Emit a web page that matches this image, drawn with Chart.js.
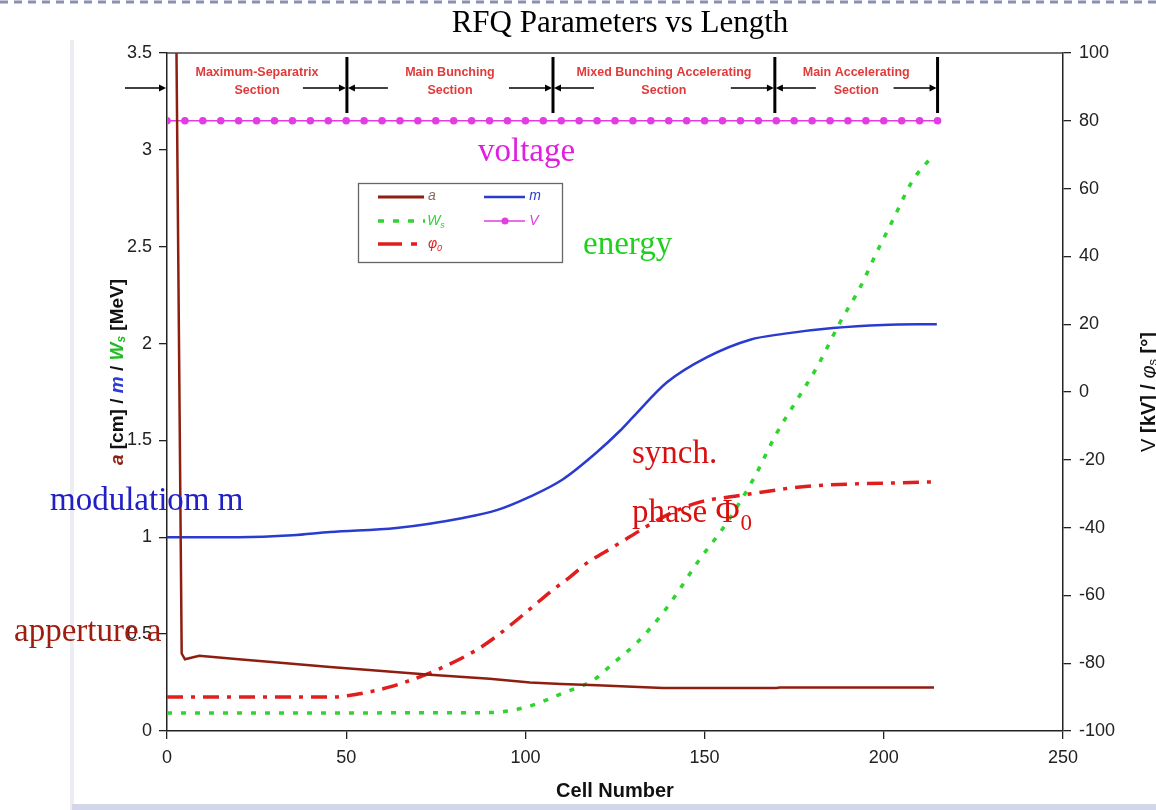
<!DOCTYPE html>
<html>
<head>
<meta charset="utf-8">
<title>RFQ Parameters vs Length</title>
<script src="https://cdn.jsdelivr.net/npm/chart.js@4.4.1/dist/chart.umd.min.js"></script>
<style>
  body { margin: 0; background: #fff; }
  #wrap { width: 1156px; height: 810px; }
</style>
</head>
<body>
<div id="wrap"><canvas id="rfq-chart" width="1156" height="810"></canvas></div>
<script>
// values (cell number -> value)
var apertureCells = [2.6, 4.1, 5, 9, 20, 30, 45.5, 60, 73.4, 90, 101.3, 110, 120, 130, 138.4, 150, 170, 171, 214];
var apertureCm = [3.6, 0.4, 0.37, 0.388, 0.37, 0.355, 0.33, 0.31, 0.29, 0.27, 0.25, 0.243, 0.236, 0.228, 0.222, 0.222, 0.222, 0.225, 0.225];

var modCells = [0, 20, 35, 45.5, 64, 82.6, 92, 101.3, 110.5, 120, 126.4, 130, 139.5, 150.7, 162.7, 171.9, 185.8, 199.8, 214.8];
var modValues = [1.0, 1.0, 1.01, 1.027, 1.048, 1.10, 1.14, 1.21, 1.30, 1.44, 1.55, 1.62, 1.80, 1.93, 2.02, 2.05, 2.08, 2.096, 2.10];

var energyCells = [0, 90, 100.4, 110.5, 119, 124.5, 131, 138.4, 143, 148, 156, 163.6, 170.2, 175.8, 181.4, 187.8, 193.4, 198, 202.6, 208, 213.7];
var energyMeV = [0.093, 0.095, 0.124, 0.196, 0.263, 0.35, 0.454, 0.61, 0.73, 0.87, 1.07, 1.30, 1.54, 1.71, 1.88, 2.11, 2.29, 2.47, 2.64, 2.84, 2.97];

var phaseCells = [0, 45.5, 53.8, 62.2, 70.6, 75.3, 86.5, 92, 101.3, 106.9, 112.4, 117.2, 121.7, 129, 138.4, 147.9, 160.7, 166.3, 176.6, 213.7];
var phaseDeg = [-90, -90, -89, -87, -84, -82, -76, -72, -64, -59, -54.6, -50.4, -47.5, -42.8, -36.9, -32.7, -30.4, -29.5, -28, -26.5];

var voltageCells = [0, 5, 10, 15, 20, 25, 30, 35, 40, 45, 50, 55, 60, 65, 70, 75, 80, 85, 90, 95, 100, 105,
  110, 115, 120, 125, 130, 135, 140, 145, 150, 155, 160, 165, 170, 175, 180, 185, 190, 195, 200, 205, 210, 215];
var voltageKV = [80, 80, 80, 80, 80, 80, 80, 80, 80, 80, 80, 80, 80, 80, 80, 80, 80, 80, 80, 80, 80, 80,
  80, 80, 80, 80, 80, 80, 80, 80, 80, 80, 80, 80, 80, 80, 80, 80, 80, 80, 80, 80, 80, 80];

// section boundaries along the structure (cell number)
var sectionEdges = [0, 50.2, 107.7, 169.6, 215];
var sectionNames = [
  ["Maximum-Separatrix", "Section"],
  ["Main Bunching", "Section"],
  ["Mixed Bunching Accelerating", "Section"],
  ["Main Accelerating", "Section"],
];

var BROWN = "#8e1f10";
var BLUE = "#2a3bd0";
var GREEN = "#2fd42f";
var RED = "#e01e1e";
var MAGENTA = "#e23ce2";

function toPoints(xs, ys) {
  var pts = [];
  for (var i = 0; i < xs.length; i++) {
    pts.push({ x: xs[i], y: ys[i] });
  }
  return pts;
}

function drawArrow(c, x1, x2, y) {
  var dir = x2 > x1 ? 1 : -1;
  c.beginPath();
  c.moveTo(x1, y);
  c.lineTo(x2 - dir * 5, y);
  c.stroke();
  c.beginPath();
  c.moveTo(x2, y);
  c.lineTo(x2 - dir * 7, y - 3.5);
  c.lineTo(x2 - dir * 7, y + 3.5);
  c.closePath();
  c.fill();
}

// draws a run of differently styled pieces, centred on (x, y), optionally rotated
function drawRich(c, parts, x, y, angle) {
  c.save();
  c.translate(x, y);
  c.rotate(angle);
  c.textBaseline = "middle";
  c.textAlign = "left";
  var total = 0;
  parts.forEach(function (p) {
    c.font = p.font;
    total += c.measureText(p.text).width;
  });
  var px = -total / 2;
  parts.forEach(function (p) {
    c.font = p.font;
    c.fillStyle = p.color;
    c.fillText(p.text, px, p.dy || 0);
    px += c.measureText(p.text).width;
  });
  c.restore();
}

function legendLine(c, x1, x2, y, color, width, dash) {
  c.save();
  c.strokeStyle = color;
  c.lineWidth = width;
  c.setLineDash(dash || []);
  c.beginPath();
  c.moveTo(x1, y);
  c.lineTo(x2, y);
  c.stroke();
  c.restore();
}

var rfqDecor = {
  id: "rfqDecor",
  beforeDraw: function (chart) {
    var c = chart.ctx;
    c.save();
    c.fillStyle = "#fff";
    c.fillRect(0, 0, chart.width, chart.height);
    // dashed slide border at the very top
    c.strokeStyle = "#8890b4";
    c.lineWidth = 3;
    c.setLineDash([8, 6]);
    c.beginPath();
    c.moveTo(0, 2);
    c.lineTo(chart.width, 2);
    c.stroke();
    c.setLineDash([]);
    // edges of the pasted figure
    c.fillStyle = "#ececf3";
    c.fillRect(70, 40, 4, 770);
    c.fillStyle = "#d3d6e8";
    c.fillRect(72, 804, chart.width - 72, 6);
    c.restore();
  },
  afterDraw: function (chart) {
    var c = chart.ctx;
    var area = chart.chartArea;
    var xs = chart.scales.x;
    c.save();

    // frame top
    c.strokeStyle = "#444";
    c.lineWidth = 1.5;
    c.beginPath();
    c.moveTo(area.left, area.top);
    c.lineTo(area.right, area.top);
    c.stroke();

    // title
    c.fillStyle = "#000";
    c.font = "31px 'Liberation Serif', serif";
    c.textAlign = "center";
    c.textBaseline = "alphabetic";
    c.fillText("RFQ Parameters vs Length", 620, 32);

    // sections
    c.strokeStyle = "#000";
    c.fillStyle = "#000";
    c.lineWidth = 1.3;
    drawArrow(c, area.left - 42, area.left - 1, 88);
    for (var i = 1; i < sectionEdges.length; i++) {
      var px = xs.getPixelForValue(sectionEdges[i]);
      c.lineWidth = 3;
      c.beginPath();
      c.moveTo(px, 57);
      c.lineTo(px, 113);
      c.stroke();
      c.lineWidth = 1.3;
      drawArrow(c, px - 44, px - 1, 88);
      if (i < sectionEdges.length - 1) {
        drawArrow(c, px + 41, px + 1, 88);
      }
    }
    c.fillStyle = "#e23a3a";
    c.font = "bold 12.5px 'Liberation Sans', Arial, sans-serif";
    c.textBaseline = "middle";
    for (var j = 0; j < sectionNames.length; j++) {
      var cx = xs.getPixelForValue((sectionEdges[j] + sectionEdges[j + 1]) / 2);
      c.fillText(sectionNames[j][0], cx, 73);
      c.fillText(sectionNames[j][1], cx, 91);
    }

    // legend box
    c.fillStyle = "#fff";
    c.fillRect(358, 183, 204, 79);
    c.strokeStyle = "#666";
    c.lineWidth = 1.3;
    c.strokeRect(358.5, 183.5, 204, 79);
    legendLine(c, 378, 424, 197, BROWN, 3);
    legendLine(c, 484, 525, 197, BLUE, 2.5);
    legendLine(c, 378, 425, 221, GREEN, 3.5, [6, 9]);
    legendLine(c, 484, 525, 221, MAGENTA, 1.6);
    c.fillStyle = MAGENTA;
    c.beginPath();
    c.arc(505, 221, 3.5, 0, Math.PI * 2);
    c.fill();
    legendLine(c, 378, 425, 244, RED, 3.5, [24, 9, 6, 10]);
    var lf = "italic 14px 'Liberation Sans', Arial, sans-serif";
    var sf = "italic 9px 'Liberation Sans', Arial, sans-serif";
    drawRich(c, [{ text: "a", font: lf, color: "#8a6a62" }], 432, 196, 0);
    drawRich(c, [{ text: "m", font: lf, color: BLUE }], 535, 196, 0);
    drawRich(c, [{ text: "W", font: lf, color: GREEN }, { text: "s", font: sf, color: GREEN, dy: 4 }], 436, 221, 0);
    drawRich(c, [{ text: "V", font: lf, color: MAGENTA }], 534, 221, 0);
    drawRich(c, [{ text: "\u03c6", font: lf, color: RED }, { text: "0", font: sf, color: RED, dy: 4 }], 435, 244, 0);

    // axis titles
    var bf = "bold 19px 'Liberation Sans', Arial, sans-serif";
    var bi = "bold italic 19px 'Liberation Sans', Arial, sans-serif";
    var bs = "bold italic 12px 'Liberation Sans', Arial, sans-serif";
    drawRich(c, [
      { text: "a", font: bi, color: BROWN },
      { text: " [cm] / ", font: bf, color: "#111" },
      { text: "m", font: bi, color: BLUE },
      { text: " / ", font: bf, color: "#111" },
      { text: "W", font: bi, color: "#22bb22" },
      { text: "s", font: bs, color: "#22bb22", dy: 4 },
      { text: " [MeV]", font: bf, color: "#111" },
    ], 118, 372, -Math.PI / 2);
    var rf = "bold 20px 'Liberation Sans', Arial, sans-serif";
    drawRich(c, [
      { text: "V ", font: "20px 'Liberation Sans', Arial, sans-serif", color: "#111" },
      { text: "[kV] / ", font: rf, color: "#111" },
      { text: "\u03c6", font: "italic 20px 'Liberation Sans', Arial, sans-serif", color: "#111" },
      { text: "s", font: "13px 'Liberation Sans', Arial, sans-serif", color: "#111", dy: 4 },
      { text: " [\u00b0]", font: rf, color: "#111" },
    ], 1149, 392, -Math.PI / 2);

    // x title
    c.fillStyle = "#111";
    c.font = "bold 20px 'Liberation Sans', Arial, sans-serif";
    c.textAlign = "center";
    c.textBaseline = "middle";
    c.fillText("Cell Number", (area.left + area.right) / 2, 791);

    // slide annotations
    var sf2 = "33px 'Liberation Serif', serif";
    c.textAlign = "left";
    c.textBaseline = "alphabetic";
    c.font = sf2;
    c.fillStyle = "#e01ee0";
    c.fillText("voltage", 478, 161);
    c.fillStyle = "#1fd01f";
    c.fillText("energy", 583, 254);
    c.fillStyle = "#2020c4";
    c.fillText("modulatiom m", 50, 510);
    c.fillStyle = "#a01c10";
    c.fillText("apperture a", 14, 641);
    c.fillStyle = "#d81010";
    c.fillText("synch.", 632, 463);
    c.fillText("phase \u03a6", 632, 522);
    var w = c.measureText("phase \u03a6").width;
    c.font = "23px 'Liberation Serif', serif";
    c.fillText("0", 632 + w + 1, 530);

    c.restore();
  },
};

var tickFont = { family: "'Liberation Sans', Arial, sans-serif", size: 18 };

var ctx = document.getElementById("rfq-chart").getContext("2d");
var rfqChart = new Chart(ctx, {
  type: "scatter",
  data: {
    datasets: [
      {
        label: "a",
        data: toPoints(apertureCells, apertureCm),
        yAxisID: "y",
        showLine: true,
        borderColor: BROWN,
        borderWidth: 2.5,
        pointRadius: 0,
      },
      {
        label: "m",
        data: toPoints(modCells, modValues),
        yAxisID: "y",
        showLine: true,
        borderColor: BLUE,
        borderWidth: 2.5,
        pointRadius: 0,
        cubicInterpolationMode: "monotone",
      },
      {
        label: "Ws",
        data: toPoints(energyCells, energyMeV),
        yAxisID: "y",
        showLine: true,
        borderColor: GREEN,
        borderWidth: 3.5,
        borderDash: [5, 9],
        pointRadius: 0,
        cubicInterpolationMode: "monotone",
      },
      {
        label: "phi0",
        data: toPoints(phaseCells, phaseDeg),
        yAxisID: "y2",
        showLine: true,
        borderColor: RED,
        borderWidth: 3.5,
        borderDash: [16, 8, 4, 8],
        pointRadius: 0,
        cubicInterpolationMode: "monotone",
      },
      {
        label: "V",
        data: toPoints(voltageCells, voltageKV),
        yAxisID: "y2",
        showLine: true,
        borderColor: MAGENTA,
        borderWidth: 1.6,
        pointRadius: 3,
        pointBackgroundColor: MAGENTA,
        pointBorderColor: MAGENTA,
      },
    ],
  },
  options: {
    responsive: false,
    animation: false,
    layout: { padding: { top: 53, left: 0, right: 0, bottom: 0 } },
    plugins: {
      legend: { display: false },
      tooltip: { enabled: false },
    },
    scales: {
      x: {
        type: "linear",
        min: 0,
        max: 250,
        ticks: { stepSize: 50, color: "#222", font: tickFont, padding: 8, maxRotation: 0 },
        grid: { drawOnChartArea: false, tickLength: 8, color: "#222", lineWidth: 1.3 },
        border: { color: "#222", width: 1.5 },
        afterFit: function (s) { s.height = 79; },
      },
      y: {
        position: "left",
        min: 0,
        max: 3.5,
        ticks: {
          stepSize: 0.5,
          color: "#222",
          font: tickFont,
          padding: 7,
          callback: function (v) { return String(v); },
        },
        grid: { drawOnChartArea: false, tickLength: 8, color: "#222", lineWidth: 1.3 },
        border: { color: "#222", width: 1.5 },
        afterFit: function (s) { s.width = 167; },
      },
      y2: {
        position: "right",
        min: -100,
        max: 100,
        ticks: { stepSize: 20, color: "#222", font: tickFont, padding: 8 },
        grid: { drawOnChartArea: false, tickLength: 8, color: "#222", lineWidth: 1.3 },
        border: { color: "#222", width: 1.5 },
        afterFit: function (s) { s.width = 93; },
      },
    },
  },
  plugins: [rfqDecor],
});
</script>
</body>
</html>
